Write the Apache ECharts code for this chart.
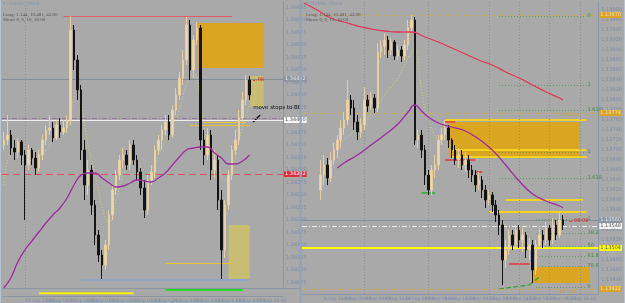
<!DOCTYPE html>
<html><head><meta charset="utf-8">
<script src="https://cdn.jsdelivr.net/npm/echarts@6/dist/echarts.min.js"></script>
<style>html,body{margin:0;padding:0;background:#a9a9a9;overflow:hidden}#c{width:625px;height:303px}</style>
</head><body><div id="c"></div>
<script>
// ---------------- DATA ----------------
const leftTimes = ['19 Sep 2013','19 Sep 23:00','20 Sep 00:20','20 Sep 00:40','20 Sep 01:00','20 Sep 01:20','20 Sep 01:40','20 Sep 02:00','20 Sep 02:20','20 Sep 02:40','20 Sep 03:00','20 Sep 03:20','20 Sep 03:40','20 Sep 04:00'];
const rightTimes = ['8 Sep 2012','8 Sep 16:00','9 Sep 00:00','9 Sep 08:00','9 Sep 16:00','10 Sep 00:00','10 Sep 08:00','10 Sep 16:00','11 Sep 00:00','11 Sep 08:00','11 Sep 16:00','12 Sep 00:00','12 Sep 08:00','12 Sep 16:00','13 Sep 00:00'];
const leftTicks = [1.34075,1.34100,1.34125,1.34150,1.34175,1.34200,1.34225,1.34250,1.34275,1.34300,1.34325,1.34350,1.34375,1.34400,1.34425,1.34450,1.34475,1.34500,1.34525,1.34550,1.34575,1.34600,1.34625];
const rightTicks = [1.13440,1.13460,1.13480,1.13500,1.13520,1.13540,1.13560,1.13580,1.13600,1.13620,1.13640,1.13660,1.13680,1.13700,1.13720,1.13740,1.13760,1.13780,1.13800,1.13820,1.13840,1.13860,1.13880,1.13900,1.13920,1.13940,1.13960,1.13980];

// [open, close, low, high]
const leftOHLC = [
[1.34350,1.34360,1.34340,1.34376],[1.34360,1.34370,1.34350,1.34410],[1.34370,1.34344,1.34330,1.34380],[1.34344,1.34336,1.34320,1.34360],
[1.34336,1.34356,1.34324,1.34364],[1.34356,1.34330,1.34310,1.34360],[1.34330,1.34310,1.34200,1.34340],[1.34310,1.34340,1.34300,1.34350],
[1.34340,1.34324,1.34310,1.34344],[1.34324,1.34304,1.34290,1.34336],[1.34304,1.34330,1.34296,1.34340],[1.34330,1.34360,1.34320,1.34370],
[1.34360,1.34380,1.34350,1.34390],[1.34380,1.34384,1.34370,1.34410],[1.34384,1.34364,1.34356,1.34396],[1.34364,1.34390,1.34360,1.34400],
[1.34390,1.34376,1.34364,1.34404],[1.34376,1.34384,1.34370,1.34400],[1.34384,1.34400,1.34374,1.34410],[1.34400,1.34580,1.34390,1.34608],
[1.34580,1.34520,1.34500,1.34590],[1.34520,1.34460,1.34440,1.34530],[1.34460,1.34340,1.34320,1.34470],[1.34340,1.34270,1.34240,1.34360],
[1.34270,1.34300,1.34250,1.34320],[1.34300,1.34230,1.34210,1.34310],[1.34230,1.34170,1.34150,1.34240],[1.34170,1.34130,1.34116,1.34180],
[1.34130,1.34110,1.34082,1.34140],[1.34110,1.34150,1.34100,1.34160],[1.34150,1.34210,1.34140,1.34220],[1.34210,1.34260,1.34200,1.34270],
[1.34260,1.34290,1.34250,1.34300],[1.34290,1.34320,1.34280,1.34330],[1.34320,1.34330,1.34304,1.34344],[1.34330,1.34310,1.34300,1.34340],
[1.34310,1.34350,1.34300,1.34360],[1.34350,1.34320,1.34310,1.34360],[1.34320,1.34296,1.34280,1.34330],[1.34296,1.34264,1.34250,1.34304],
[1.34264,1.34220,1.34204,1.34280],[1.34220,1.34280,1.34210,1.34290],[1.34280,1.34296,1.34270,1.34310],[1.34296,1.34340,1.34284,1.34350],
[1.34340,1.34360,1.34330,1.34370],[1.34360,1.34380,1.34340,1.34390],[1.34380,1.34396,1.34370,1.34410],[1.34396,1.34370,1.34360,1.34410],
[1.34370,1.34420,1.34364,1.34430],[1.34420,1.34450,1.34410,1.34464],[1.34450,1.34484,1.34440,1.34496],[1.34484,1.34520,1.34470,1.34540],
[1.34520,1.34590,1.34510,1.34606],[1.34590,1.34500,1.34480,1.34600],[1.34500,1.34560,1.34484,1.34570],[1.34560,1.34584,1.34550,1.34596],
[1.34584,1.34360,1.34340,1.34590],[1.34360,1.34330,1.34310,1.34380],[1.34330,1.34370,1.34320,1.34384],[1.34370,1.34300,1.34280,1.34380],
[1.34300,1.34320,1.34284,1.34340],[1.34320,1.34240,1.34220,1.34330],[1.34240,1.34140,1.34082,1.34260],[1.34140,1.34230,1.34124,1.34240],
[1.34230,1.34290,1.34220,1.34300],[1.34290,1.34340,1.34280,1.34350],[1.34340,1.34360,1.34330,1.34380],[1.34360,1.34404,1.34350,1.34420],
[1.34404,1.34440,1.34396,1.34456],[1.34440,1.34480,1.34430,1.34490],[1.34480,1.34450,1.34440,1.34488]
];
const leftPurple = [[0,1.34064],[2,1.34084],[4,1.34116],[6,1.34140],[8,1.34158],[10,1.34176],[12,1.34194],[14,1.34210],[16,1.34224],[18,1.34244],[20,1.34270],[22,1.34290],[24,1.34294],[26,1.34294],[28,1.34284],[30,1.34274],[32,1.34266],[34,1.34268],[36,1.34274],[38,1.34280],[40,1.34278],[42,1.34276],[44,1.34284],[46,1.34294],[48,1.34310],[50,1.34326],[52,1.34340],[54,1.34344],[56,1.34346],[58,1.34346],[60,1.34334],[62,1.34324],[64,1.34312],[66,1.34312],[68,1.34318],[70,1.34330]];
const leftDotted = [[0,1.34270],[3,1.34340],[6,1.34340],[9,1.34324],[12,1.34340],[15,1.34370],[18,1.34390],[19,1.34416],[20,1.34446],[21,1.34464],[22,1.34440],[23,1.34390],[24,1.34350],[25,1.34320],[27,1.34260],[28,1.34226],[30,1.34194],[32,1.34240],[34,1.34290],[36,1.34324],[38,1.34320],[40,1.34290],[42,1.34300],[44,1.34330],[46,1.34360],[48,1.34390],[50,1.34420],[52,1.34470],[54,1.34494],[56,1.34440],[57,1.34386],[59,1.34340],[61,1.34310],[63,1.34280],[65,1.34300],[67,1.34360],[69,1.34410],[70,1.34430]];
const leftSubYellow = [[10,0.4],[37,0.4]];
const leftSubGreen = [[46,0.85],[68,0.85]];

const rightOHLC = [
[1.13620,1.13650,1.13600,1.13680],[1.13650,1.13670,1.13630,1.13690],[1.13670,1.13644,1.13630,1.13684],[1.13644,1.13680,1.13636,1.13696],
[1.13680,1.13700,1.13670,1.13714],[1.13700,1.13720,1.13684,1.13730],[1.13720,1.13744,1.13704,1.13760],[1.13744,1.13760,1.13730,1.13776],
[1.13760,1.13800,1.13750,1.13840],[1.13800,1.13784,1.13770,1.13810],[1.13784,1.13756,1.13740,1.13800],[1.13756,1.13736,1.13720,1.13770],
[1.13736,1.13750,1.13724,1.13764],[1.13750,1.13800,1.13740,1.13826],[1.13800,1.13788,1.13776,1.13810],[1.13788,1.13804,1.13780,1.13816],
[1.13804,1.13784,1.13774,1.13812],[1.13784,1.13896,1.13776,1.13914],[1.13896,1.13908,1.13884,1.13920],[1.13908,1.13920,1.13890,1.13934],
[1.13920,1.13900,1.13884,1.13928],[1.13900,1.13916,1.13890,1.13924],[1.13916,1.13888,1.13880,1.13920],[1.13888,1.13900,1.13880,1.13910],
[1.13900,1.13888,1.13876,1.13908],[1.13888,1.13910,1.13880,1.13920],[1.13910,1.13944,1.13900,1.13960],[1.13944,1.13960,1.13936,1.13970],
[1.13960,1.13720,1.13710,1.13966],[1.13720,1.13730,1.13704,1.13740],[1.13730,1.13700,1.13684,1.13740],[1.13700,1.13650,1.13630,1.13710],
[1.13650,1.13620,1.13610,1.13660],[1.13620,1.13660,1.13610,1.13670],[1.13660,1.13670,1.13644,1.13690],[1.13670,1.13720,1.13660,1.13730],
[1.13720,1.13730,1.13710,1.13744],[1.13730,1.13744,1.13720,1.13760],[1.13744,1.13720,1.13704,1.13750],[1.13720,1.13700,1.13684,1.13724],
[1.13700,1.13680,1.13670,1.13710],[1.13680,1.13690,1.13664,1.13704],[1.13690,1.13670,1.13660,1.13700],[1.13670,1.13680,1.13656,1.13696],
[1.13680,1.13660,1.13644,1.13690],[1.13660,1.13650,1.13636,1.13670],[1.13650,1.13630,1.13616,1.13660],[1.13630,1.13640,1.13620,1.13656],
[1.13640,1.13620,1.13604,1.13648],[1.13620,1.13600,1.13584,1.13630],[1.13600,1.13610,1.13590,1.13620],[1.13610,1.13590,1.13576,1.13616],
[1.13590,1.13570,1.13556,1.13600],[1.13570,1.13550,1.13530,1.13580],[1.13550,1.13480,1.13430,1.13560],[1.13480,1.13500,1.13464,1.13520],
[1.13500,1.13530,1.13490,1.13540],[1.13530,1.13510,1.13500,1.13540],[1.13510,1.13540,1.13500,1.13550],[1.13540,1.13520,1.13504,1.13550],
[1.13520,1.13530,1.13496,1.13544],[1.13530,1.13500,1.13484,1.13536],[1.13500,1.13510,1.13480,1.13524],[1.13510,1.13460,1.13434,1.13520],
[1.13460,1.13510,1.13450,1.13520],[1.13510,1.13530,1.13500,1.13544],[1.13530,1.13520,1.13504,1.13540],[1.13520,1.13544,1.13510,1.13556],
[1.13544,1.13520,1.13508,1.13550],[1.13520,1.13550,1.13512,1.13564],[1.13550,1.13530,1.13520,1.13560],[1.13530,1.13560,1.13524,1.13576],
[1.13560,1.13550,1.13540,1.13570]
];
const rightFirstSlot = 5;
const rightRed = [[0,1.13994],[4,1.13980],[8,1.13964],[12,1.13956],[16,1.13948],[20,1.13942],[24,1.13938],[28,1.13936],[32,1.13936],[36,1.13926],[40,1.13916],[44,1.13904],[48,1.13892],[52,1.13880],[56,1.13870],[60,1.13856],[64,1.13844],[68,1.13830],[72,1.13816],[76,1.13804],[77,1.13800]];
const rightPurple = [[10,1.13664],[12,1.13674],[16,1.13690],[20,1.13710],[24,1.13730],[28,1.13752],[31,1.13776],[33,1.13790],[35,1.13778],[37,1.13766],[40,1.13754],[44,1.13746],[48,1.13738],[52,1.13722],[56,1.13700],[60,1.13670],[64,1.13638],[68,1.13612],[72,1.13598],[76,1.13588],[77,1.13584]];
const rightDotted = [[9,1.13700],[12,1.13720],[16,1.13744],[21,1.13780],[24,1.13810],[28,1.13844],[31,1.13884],[33,1.13904],[35,1.13820],[37,1.13760],[40,1.13720],[43,1.13704],[46,1.13680],[50,1.13644],[54,1.13604],[58,1.13570],[62,1.13530],[66,1.13514],[70,1.13510],[74,1.13524],[77,1.13540]];
const fibLevels = [[1.13968,'0'],[1.13830,'1'],[1.13780,'1.618'],[1.13696,'1'],[1.13644,'1.618']];
const fibLow = [[1.13562,'1'],[1.13534,'38.2'],[1.13508,'50'],[1.13488,'61.8'],[1.13468,'78.6'],[1.13426,'0']];

// ---------------- CHART ----------------
const LN = 80, RN = 88;
const F = 'DejaVu Sans';
const lblC = '#7d8ca5';
const leftCats = Array.from({length: LN}, (_, i) => String(i));
const rightCats = Array.from({length: RN}, (_, i) => String(i));
const rightData = Array(rightFirstSlot).fill(['-','-','-','-']).concat(rightOHLC);

function tag(bg, fg) {
  return {show: true, position: 'end', distance: 1, formatter: p => Number(p.value).toFixed(5),
    backgroundColor: bg, color: fg, fontSize: 5, fontFamily: F, padding: [1, 1, 0, 1]};
}
const noLbl = {show: false};
function seg(x1, x2, y, color, width, type, label) {
  return [{coord: [x1, y], lineStyle: {color, width, type}, label: label || noLbl}, {coord: [x2, y]}];
}
function full(y, color, width, type, label) {
  return {yAxis: y, lineStyle: {color, width, type}, label: label || noLbl};
}
const candleStyle = {color: '#ecd7ae', color0: '#141414', borderColor: '#e6cfa2', borderColor0: '#141414', borderWidth: 1};

const option = {
  animation: false,
  backgroundColor: '#a9a9a9',
  grid: [
    {left: 2, top: 2, width: 281, height: 286},
    {left: 302, top: 2, width: 308, height: 292},
    {left: 2, top: 289, width: 281, height: 8}
  ],
  xAxis: [
    {type: 'category', gridIndex: 0, data: leftCats, boundaryGap: true, axisLine: {show: false}, axisTick: {show: false}, axisLabel: {show: false}},
    {type: 'category', gridIndex: 1, data: rightCats, boundaryGap: true, axisLine: {lineStyle: {color: '#8a96a6'}}, axisTick: {show: false},
      axisLabel: {interval: 5, formatter: (v, i) => rightTimes[i / 6] || '', fontSize: 4.5, color: lblC, fontFamily: F, margin: 2, align: 'left'}},
    {type: 'category', gridIndex: 2, data: leftCats, boundaryGap: true, axisLine: {lineStyle: {color: '#8a96a6'}}, axisTick: {show: false},
      axisLabel: {interval: 5, formatter: (v, i) => leftTimes[i / 6] || '', fontSize: 4.5, color: lblC, fontFamily: F, margin: 2, align: 'left'}}
  ],
  yAxis: [
    {type: 'value', gridIndex: 0, position: 'right', min: 1.34064, max: 1.34636, scale: true, splitLine: {show: false},
      axisLine: {show: true, lineStyle: {color: '#8a96a6'}}, axisTick: {show: false},
      axisLabel: {customValues: leftTicks, formatter: v => v.toFixed(5), fontSize: 5, color: lblC, fontFamily: F, margin: 3}},
    {type: 'value', gridIndex: 1, position: 'right', min: 1.13412, max: 1.13996, scale: true, splitLine: {show: false},
      axisLine: {show: true, lineStyle: {color: '#8a96a6'}}, axisTick: {show: false},
      axisLabel: {customValues: rightTicks, formatter: v => v.toFixed(5), fontSize: 5, color: lblC, fontFamily: F, margin: 3}},
    {type: 'value', gridIndex: 2, min: 0, max: 1, show: false}
  ],
  series: [
    {type: 'candlestick', xAxisIndex: 0, yAxisIndex: 0, data: leftOHLC, barWidth: 2, itemStyle: candleStyle, z: 5,
      markArea: {silent: true, z: 1, data: [
        [{coord: [55, 1.34594], itemStyle: {color: '#daa520'}}, {coord: [74, 1.34504]}],
        [{coord: [70, 1.34488], itemStyle: {color: '#c8be72'}}, {coord: [74, 1.34426]}],
        [{coord: [64, 1.34190], itemStyle: {color: '#c8be72'}}, {coord: [70, 1.34080]}]
      ]},
      markLine: {silent: true, symbol: 'none', animation: false, precision: 5, data: [
        seg(17, 65, 1.34608, '#e0606a', 1, 'solid'),
        seg(53, 70, 1.34390, '#e8c430', 1, 'solid'),
        seg(57, 69, 1.34396, '#e8c430', 1, 'solid'),
        seg(46, 65, 1.34114, '#e8c430', 1, 'solid'),
        seg(22, 70, 1.34080, '#8ea4c8', 2, 'solid'),
        seg(71, 72, 1.34480, '#e03030', 1, [2, 1], {show: true, position: 'end', distance: 1, formatter: '08', color: '#e02020', fontSize: 5, fontFamily: F}),
        [{coord: [71, 1.34396], lineStyle: {color: '#111111', width: 1.5, type: 'solid'}, label: noLbl}, {coord: [73, 1.34410]}],
        {xAxis: 6, lineStyle: {color: '#8e8e8e', width: 1, type: [1, 2]}, label: noLbl}
      ]},
      markPoint: {silent: true, symbolSize: 0, data: [
        {coord: [71, 1.34424], label: {show: true, formatter: 'move stops to BE', color: '#111111', fontSize: 5.5, fontFamily: F, position: 'right', distance: 0}}
      ]}
    },
    {type: 'line', xAxisIndex: 0, yAxisIndex: 0, data: leftDotted, smooth: true, symbol: 'none', lineStyle: {color: '#d6d67a', width: 1, type: [1, 2]}, z: 4},
    {type: 'line', xAxisIndex: 0, yAxisIndex: 0, data: leftPurple, smooth: true, symbol: 'none', lineStyle: {color: '#9a2c9c', width: 1.3}, z: 6,
      markLine: {silent: true, symbol: 'none', animation: false, precision: 5, data: [
        full(1.34482, '#858d97', 1, 'solid', tag('#8d95a0', '#e6e6e6')),
        full(1.34404, '#9a72a8', 1, [5, 2, 1, 2]),
        full(1.34400, '#eeeeee', 1, 'solid', tag('#f5f5f5', '#555555')),
        full(1.34292, '#e05262', 1, [7, 4], tag('#e03040', '#ffffff'))
      ]}
    },
    {type: 'line', xAxisIndex: 2, yAxisIndex: 2, data: leftSubYellow, symbol: 'none', lineStyle: {color: '#f2f200', width: 2}},
    {type: 'line', xAxisIndex: 2, yAxisIndex: 2, data: leftSubGreen, symbol: 'none', lineStyle: {color: '#22dd22', width: 2}},

    {type: 'candlestick', xAxisIndex: 1, yAxisIndex: 1, data: rightData, barWidth: 2, itemStyle: candleStyle, z: 5,
      markArea: {silent: true, z: 1, data: [
        [{coord: [43, 1.13756], itemStyle: {color: '#daa520'}}, {coord: [82, 1.13686]}],
        [{coord: [68, 1.13466], itemStyle: {color: '#daa520'}}, {coord: [85, 1.13434]}]
      ]},
      markLine: {silent: true, symbol: 'none', animation: false, precision: 5, data: [
        ...fibLevels.map(f => seg(58, 84, f[0], '#5e9a5e', 1, [1, 2], {show: true, position: 'end', distance: 1, formatter: f[1], color: '#3d8a3d', fontSize: 5, fontFamily: F})),
        ...fibLow.map(f => seg(69, 84, f[0], '#5e9a5e', 1, [1, 2], {show: true, position: 'end', distance: 1, formatter: f[1], color: '#3d8a3d', fontSize: 5, fontFamily: F})),
        seg(42, 84, 1.13760, '#f2d21c', 2, 'solid'),
        seg(44, 84, 1.13700, '#f2d21c', 2, 'solid'),
        seg(44, 84, 1.13686, '#f2d21c', 2, 'solid'),
        seg(60, 83, 1.13600, '#f2d21c', 2, 'solid'),
        seg(55, 84, 1.13576, '#f2d21c', 2, 'solid'),
        seg(61, 67, 1.13472, '#e03a3a', 1.5, 'solid'),
        seg(42, 45, 1.13756, '#e03a3a', 1.5, 'solid'),
        seg(42, 51, 1.13680, '#e03a3a', 1.5, 'solid'),
        seg(51, 53, 1.13656, '#e03a3a', 1.5, 'solid'),
        seg(35, 39, 1.13614, '#2fb02f', 1.5, 'solid'),
        [{coord: [58, 1.13422], lineStyle: {color: '#2fa02f', width: 1.2}, label: noLbl}, {coord: [67, 1.13430]}],
        [{coord: [67, 1.13430], lineStyle: {color: '#2fa02f', width: 1.2}, label: noLbl}, {coord: [70, 1.13446]}],
        seg(79, 80, 1.13558, '#e03030', 1, [2, 1], {show: true, position: 'end', distance: 1, formatter: '08 08', color: '#e02020', fontSize: 5, fontFamily: F}),
        {xAxis: 18, lineStyle: {color: '#8e8e8e', width: 1, type: [1, 2]}, label: noLbl},
        {xAxis: 37, lineStyle: {color: '#8e8e8e', width: 1, type: [1, 2]}, label: noLbl},
        {xAxis: 55, lineStyle: {color: '#8e8e8e', width: 1, type: [1, 2]}, label: noLbl},
        {xAxis: 64, lineStyle: {color: '#8e8e8e', width: 1, type: [1, 2]}, label: noLbl},
        {xAxis: 73, lineStyle: {color: '#8e8e8e', width: 1, type: [1, 2]}, label: noLbl},
        {xAxis: 82, lineStyle: {color: '#8e8e8e', width: 1, type: [1, 2]}, label: noLbl}
      ]},
      markPoint: {silent: true, symbolSize: 0, data: [
        {coord: [76, 1.13770], label: {show: true, formatter: 'SP/TLine', color: '#c89a40', fontSize: 4.5, fontFamily: F, position: 'right', distance: 0}},
        {coord: [76, 1.13416], label: {show: true, formatter: 'BP Line', color: '#c89a40', fontSize: 4.5, fontFamily: F, position: 'right', distance: 0}}
      ]}
    },
    {type: 'line', xAxisIndex: 1, yAxisIndex: 1, data: rightDotted, smooth: true, symbol: 'none', lineStyle: {color: '#d6d67a', width: 1, type: [1, 2]}, z: 4},
    {type: 'line', xAxisIndex: 1, yAxisIndex: 1, data: rightPurple, smooth: true, symbol: 'none', lineStyle: {color: '#9a2c9c', width: 1.3}, z: 6,
      markLine: {silent: true, symbol: 'none', animation: false, precision: 5, data: [
        full(1.13970, '#c9a860', 1, [5, 4], tag('#d9a325', '#f0e0b0')),
        full(1.13774, '#c9a860', 1, [5, 4], tag('#d9a325', '#f0e0b0')),
        full(1.13422, '#c9a860', 1, [5, 4], tag('#d9a325', '#f0e0b0')),
        full(1.13560, '#858d97', 1, 'solid', tag('#8d95a0', '#e6e6e6')),
        full(1.13548, '#eeeeee', 1, [5, 2, 1, 2], tag('#f5f5f5', '#555555')),
        full(1.13504, '#ffff00', 2, 'solid', tag('#ffff00', '#555555'))
      ]}
    },
    {type: 'line', xAxisIndex: 1, yAxisIndex: 1, data: rightRed, smooth: true, symbol: 'none', lineStyle: {color: '#dc3a5c', width: 1.3}, z: 6}
  ],
  graphic: [
    {type: 'line', shape: {x1: 300.5, y1: 0, x2: 300.5, y2: 303}, style: {stroke: '#8fa2b8', lineWidth: 2}, z: 100},
    {type: 'line', shape: {x1: 0.5, y1: 0, x2: 0.5, y2: 303}, style: {stroke: '#b8c4d0', lineWidth: 1}, z: 100},
    {type: 'line', shape: {x1: 624.5, y1: 0, x2: 624.5, y2: 303}, style: {stroke: '#b8c4d0', lineWidth: 1}, z: 100},
    {type: 'line', shape: {x1: 2, y1: 288.5, x2: 300, y2: 288.5}, style: {stroke: '#8a96a6', lineWidth: 1}, z: 100},
    {type: 'text', left: 3, top: 1, style: {text: '\u25BE mobile_show', fill: '#8696b0', font: '5px "DejaVu Sans"'}, z: 100},
    {type: 'text', left: 3, top: 12, style: {text: 'Long: 1.144, 10.481, 43.00', fill: '#555555', font: '5px "Liberation Serif"'}, z: 100},
    {type: 'text', left: 3, top: 17, style: {text: 'Short: 0, 0, 10, 10.00', fill: '#555555', font: '5px "Liberation Serif"'}, z: 100},
    {type: 'text', left: 306, top: 1, style: {text: '\u25BE Mobile_Show', fill: '#8696b0', font: '5px "DejaVu Sans"'}, z: 100},
    {type: 'text', left: 306, top: 12, style: {text: 'Long: 1.144, 10.481, 43.00', fill: '#555555', font: '5px "Liberation Serif"'}, z: 100},
    {type: 'text', left: 306, top: 17, style: {text: 'Short: 0, 0, 10, 10.00', fill: '#555555', font: '5px "Liberation Serif"'}, z: 100}
  ]
};
const chart = echarts.init(document.getElementById('c'));
chart.setOption(option);
</script></body></html>
